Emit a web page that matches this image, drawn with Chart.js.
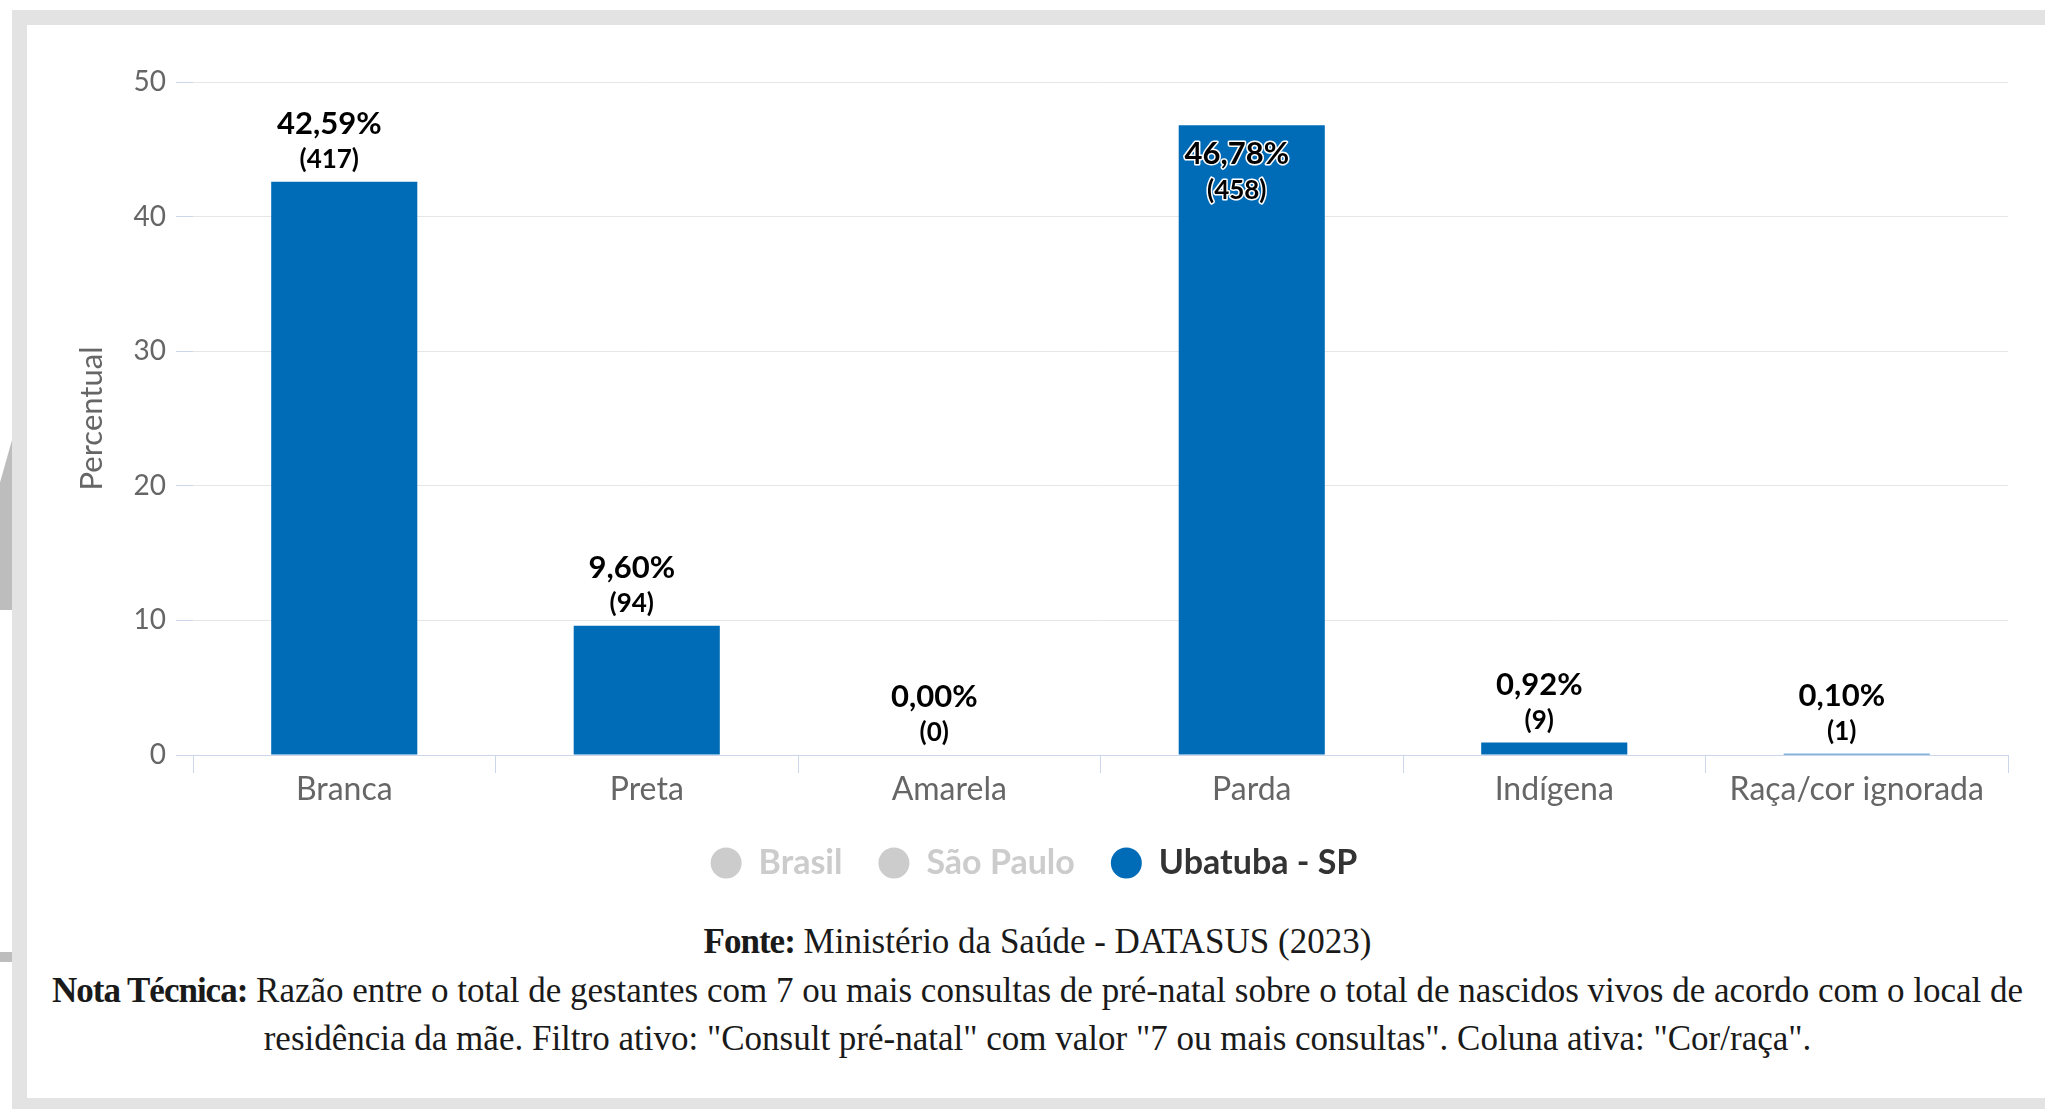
<!DOCTYPE html>
<html lang="pt-BR">
<head>
<meta charset="utf-8">
<title>Cor/raça - Ubatuba</title>
<script src="https://cdn.jsdelivr.net/npm/chart.js@4.4.1/dist/chart.umd.min.js"></script>
<style>
  html, body { margin: 0; padding: 0; background: #fff; }
  body { width: 2045px; height: 1109px; position: relative; overflow: hidden; }
  .moldura-top { position: absolute; left: 12px; top: 10px; width: 2033px; height: 15px; background: #e3e3e3; }
  .moldura-esq { position: absolute; left: 12px; top: 10px; width: 15px; height: 1099px; background: #e3e3e3; }
  .moldura-base { position: absolute; left: 12px; top: 1098px; width: 2033px; height: 11px; background: #e3e3e3; }
  .cunha { position: absolute; left: 0; top: 440px; width: 12px; height: 170px; background: #bdbdbd;
           clip-path: polygon(100% 0, 100% 100%, 0 100%, 0 25%); }
  .cunha2 { position: absolute; left: 0; top: 952px; width: 12px; height: 10px; background: #bdbdbd; }
  #wrap { position: absolute; left: 20px; top: 25px; width: 2025px; height: 865px; }
  .rodape { position: absolute; left: 30px; width: 2015px; text-align: center; white-space: nowrap; line-height: 40px;
            font-family: "Liberation Serif", "DejaVu Serif", serif; font-size: 35px; color: #1a1a1a; }
  .rodape b { font-weight: bold; letter-spacing: -1px; }
</style>
</head>
<body>
<div class="moldura-top"></div>
<div class="moldura-esq"></div>
<div class="moldura-base"></div>
<div class="cunha"></div>
<div class="cunha2"></div>

<div id="wrap"><canvas id="grafico"></canvas></div>

<div class="rodape" style="top:922px;"><b>Fonte:</b> Ministério da Saúde - DATASUS (2023)</div>
<div class="rodape" style="top:971px;"><b>Nota Técnica:</b> Razão entre o total de gestantes com 7 ou mais consultas de pré-natal sobre o total de nascidos vivos de acordo com o local de</div>
<div class="rodape" style="top:1019px;">residência da mãe. Filtro ativo: "Consult pré-natal" com valor "7 ou mais consultas". Coluna ativa: "Cor/raça".</div>

<script>
const categorias = ["Branca", "Preta", "Amarela", "Parda", "Indígena", "Raça/cor ignorada"];
const percentual = [42.59, 9.60, 0.00, 46.78, 0.92, 0.10];
const quantidade = [417, 94, 0, 458, 9, 1];
const ticksY = [0, 10, 20, 30, 40, 50];

const azul = "#006cb8";
const cinzaLegenda = "#cccccc";
const fonte = "Lato, 'Open Sans', sans-serif";

// rótulos de valor acima das barras (percentual + quantidade)
const rotulos = {
  id: "rotulos",
  afterDatasetsDraw(chart) {
    const ctx = chart.ctx;
    const area = chart.chartArea;
    chart.data.datasets.forEach((ds, di) => {
      const meta = chart.getDatasetMeta(di);
      if (!chart.isDatasetVisible(di)) return;
      meta.data.forEach((bar, i) => {
        const pct = ds.data[i].toFixed(2).replace(".", ",") + "%";
        const qtd = "(" + ds.qtd[i] + ")";
        const x = bar.x - 15;
        let y1 = bar.y - 58;
        let y2 = bar.y - 22;
        if (y1 - 18 < area.top) {
          // não cabe acima: vai para dentro da barra
          y1 = bar.y + 29;
          y2 = bar.y + 65;
        }
        ctx.save();
        ctx.textAlign = "center";
        ctx.textBaseline = "middle";
        ctx.lineJoin = "round";
        ctx.strokeStyle = "#ffffff";
        ctx.lineWidth = 3;
        ctx.fillStyle = "#000";
        ctx.font = "bold 31px " + fonte;
        ctx.strokeText(pct, x, y1);
        ctx.fillText(pct, x, y1);
        ctx.font = "bold 26px " + fonte;
        ctx.strokeText(qtd, x, y2);
        ctx.fillText(qtd, x, y2);
        ctx.restore();
      });
    });
  }
};

const ctx = document.getElementById("grafico").getContext("2d");
new Chart(ctx, {
  type: "bar",
  data: {
    labels: categorias,
    datasets: [
      { label: "Brasil", data: [], hidden: true, backgroundColor: cinzaLegenda, qtd: [] },
      { label: "São Paulo", data: [], hidden: true, backgroundColor: cinzaLegenda, qtd: [] },
      {
        label: "Ubatuba - SP",
        data: percentual,
        qtd: quantidade,
        backgroundColor: azul,
        borderWidth: 0,
        categoryPercentage: 1,
        barPercentage: 0.483
      }
    ]
  },
  options: {
    responsive: true,
    maintainAspectRatio: false,
    animation: false,
    layout: { padding: { left: 40, right: 37, top: 57, bottom: 0 } },
    plugins: {
      tooltip: { enabled: false },
      legend: {
        position: "bottom",
        onClick: null,
        labels: {
          usePointStyle: true,
          pointStyleWidth: 31,
          boxHeight: 22,
          padding: 36,
          font: { family: fonte, size: 34, weight: "bold" },
          generateLabels(chart) {
            return chart.data.datasets.map((ds, i) => {
              const ativo = i === 2;
              return {
                text: ds.label,
                fillStyle: ativo ? azul : cinzaLegenda,
                strokeStyle: ativo ? azul : cinzaLegenda,
                fontColor: ativo ? "#333333" : cinzaLegenda,
                lineWidth: 0,
                pointStyle: "circle",
                hidden: false,
                datasetIndex: i
              };
            });
          }
        }
      }
    },
    scales: {
      x: {
        grid: {
          offset: true,
          drawOnChartArea: false,
          drawTicks: true,
          tickLength: 18,
          color: "#ccd6eb"
        },
        border: { display: true, color: "#ccd6eb", width: 1 },
        ticks: {
          color: "#666666",
          padding: -3,
          maxRotation: 0,
          font: { family: fonte, size: 32 }
        },
        afterFit(scale) { scale.height = 55; }
      },
      y: {
        min: 0,
        max: 50,
        afterBuildTicks(scale) { scale.ticks = ticksY.map(v => ({ value: v })); },
        grid: {
          color: "#e6e6e6",
          tickColor: "#ccd6eb",
          tickLength: 17,
          lineWidth: 1
        },
        border: { display: false },
        ticks: {
          color: "#666666",
          padding: 10,
          font: { family: fonte, size: 28 }
        },
        title: {
          display: true,
          text: "Percentual",
          color: "#666666",
          padding: { top: 13, bottom: 0 },
          font: { family: fonte, size: 31 }
        },
        afterFit(scale) { scale.width = 133; }
      }
    }
  },
  plugins: [rotulos]
});
</script>
</body>
</html>
